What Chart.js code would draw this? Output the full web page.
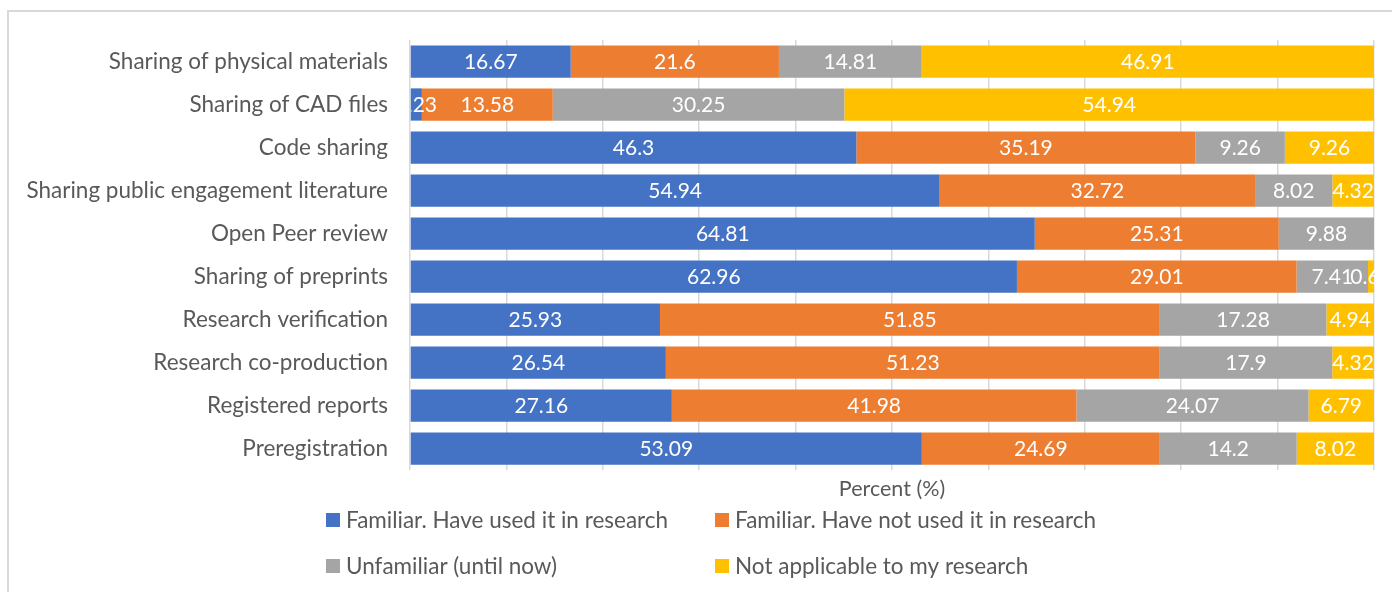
<!DOCTYPE html>
<html>
<head>
<meta charset="utf-8">
<title>Familiarity with open research practices</title>
<script src="https://cdn.jsdelivr.net/npm/chart.js@4/dist/chart.umd.min.js"></script>
<style>
    body { margin: 0; background: #fff; }
    #chart-wrap { width: 1392px; height: 592px; }
</style>
</head>
<body>
<div id="chart-wrap"><canvas id="practice-chart" width="1392" height="592"></canvas></div>
<script>
// Practices, top to bottom
const practices = [
    'Sharing of physical materials',
    'Sharing of CAD files',
    'Code sharing',
    'Sharing public engagement literature',
    'Open Peer review',
    'Sharing of preprints',
    'Research verification',
    'Research co-production',
    'Registered reports',
    'Preregistration'
];

// Percent of respondents for each answer
const usedInResearch    = [16.67, 1.23, 46.3, 54.94, 64.81, 62.96, 25.93, 26.54, 27.16, 53.09];
const notUsedInResearch = [21.6, 13.58, 35.19, 32.72, 25.31, 29.01, 51.85, 51.23, 41.98, 24.69];
const unfamiliar        = [14.81, 30.25, 9.26, 8.02, 9.88, 7.41, 17.28, 17.9, 24.07, 14.2];
const notApplicable     = [46.91, 54.94, 9.26, 4.32, 0, 0.62, 4.94, 4.32, 6.79, 8.02];

const seriesNames = [
    'Familiar. Have used it in research',
    'Familiar. Have not used it in research',
    'Unfamiliar (until now)',
    'Not applicable to my research'
];
const seriesColors = ['#4472C4', '#ED7D31', '#A5A5A5', '#FFC000'];

const FONT = 'Lato, "Open Sans", sans-serif';
const TEXT_GREY = '#595959';

// Thin grey frame around the chart (left and top edges)
const framePlugin = {
    id: 'frame',
    beforeDraw(chart) {
        const ctx = chart.ctx;
        ctx.save();
        ctx.strokeStyle = '#D9D9D9';
        ctx.lineWidth = 2;
        ctx.beginPath();
        ctx.moveTo(8, chart.height);
        ctx.lineTo(8, 11);
        ctx.lineTo(chart.width, 11);
        ctx.stroke();
        ctx.restore();
    }
};

// White value labels in the middle of every segment, clipped to the plot area
const valueLabels = {
    id: 'valueLabels',
    afterDatasetsDraw(chart) {
        const ctx = chart.ctx;
        const area = chart.chartArea;
        ctx.save();
        ctx.beginPath();
        ctx.rect(area.left + 1, area.top, area.right - area.left + 2, area.bottom - area.top);
        ctx.clip();
        ctx.fillStyle = '#FFFFFF';
        ctx.font = '21px ' + FONT;
        ctx.textAlign = 'center';
        ctx.textBaseline = 'middle';
        chart.data.datasets.forEach((ds, di) => {
            const meta = chart.getDatasetMeta(di);
            meta.data.forEach((bar, i) => {
                const v = ds.data[i];
                if (!v) return;
                ctx.fillText(String(v), (bar.x + bar.base) / 2, bar.y + 1);
            });
        });
        ctx.restore();
    }
};

// Two-column legend below the axis title
const gridLegend = {
    id: 'gridLegend',
    afterDraw(chart) {
        const ctx = chart.ctx;
        const colX = [326, 715];
        const rowY = [520, 566];
        ctx.save();
        ctx.font = '22.5px ' + FONT;
        ctx.textBaseline = 'middle';
        ctx.textAlign = 'left';
        chart.data.datasets.forEach((ds, i) => {
            const x = colX[i % 2];
            const y = rowY[Math.floor(i / 2)];
            ctx.fillStyle = ds.backgroundColor;
            ctx.fillRect(x, y - 7, 14, 14);
            ctx.fillStyle = TEXT_GREY;
            ctx.fillText(ds.label, x + 20, y + 1);
        });
        ctx.restore();
    }
};

const datasetValues = [usedInResearch, notUsedInResearch, unfamiliar, notApplicable];

new Chart(document.getElementById('practice-chart'), {
    type: 'bar',
    data: {
        labels: practices,
        datasets: datasetValues.map((vals, i) => ({
            label: seriesNames[i],
            data: vals,
            backgroundColor: seriesColors[i],
            borderWidth: 0,
            categoryPercentage: 1,
            barPercentage: 0.75
        }))
    },
    options: {
        indexAxis: 'y',
        responsive: false,
        animation: false,
        layout: { padding: { top: 40, right: 18, bottom: 90, left: 0 } },
        plugins: {
            legend: { display: false },
            tooltip: { enabled: false }
        },
        scales: {
            x: {
                stacked: true,
                min: 0,
                max: 100,
                ticks: { display: false, stepSize: 10 },
                grid: { color: '#D9D9D9', lineWidth: 1.5, drawTicks: false },
                border: { display: false },
                title: {
                    display: true,
                    text: 'Percent (%)',
                    color: TEXT_GREY,
                    font: { family: FONT, size: 21.5 },
                    padding: { top: 0, bottom: 0 }
                },
                afterFit(scale) { scale.height = 32; }
            },
            y: {
                stacked: true,
                grid: { display: false },
                border: { display: false },
                ticks: {
                    color: TEXT_GREY,
                    font: { family: FONT, size: 22.5 },
                    padding: 14
                },
                afterFit(scale) { scale.width = 410; }
            }
        }
    },
    plugins: [framePlugin, valueLabels, gridLegend]
});
</script>
</body>
</html>
